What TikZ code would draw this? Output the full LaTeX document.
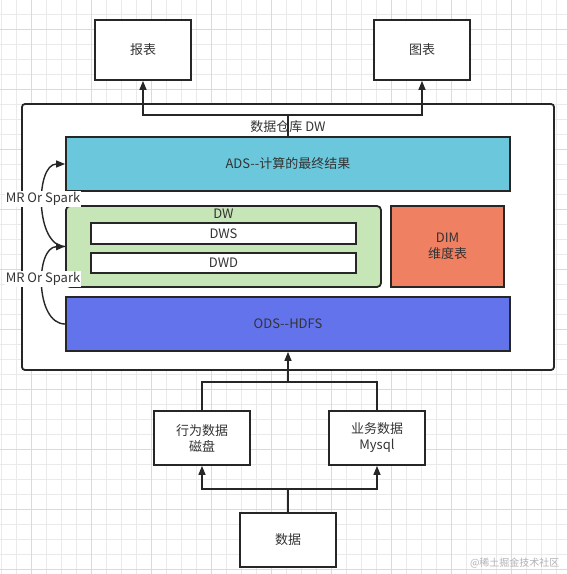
\documentclass[tikz,border=0pt]{standalone}
\usepackage{fontspec}
\setmainfont{Noto Sans CJK SC}
\usetikzlibrary{arrows.meta}
\definecolor{txt}{HTML}{333333}
\definecolor{adsc}{RGB}{107,200,220}
\definecolor{dwc}{RGB}{199,230,183}
\definecolor{dimc}{RGB}{240,128,98}
\definecolor{odsc}{RGB}{98,115,235}
\definecolor{gridminor}{RGB}{234,234,234}
\definecolor{gridmajor}{RGB}{218,218,218}
\newcommand{\dd}{-\kern0pt-}
\tikzset{
  box/.style={draw=black!85, line width=1.8pt, fill=white, inner sep=0pt, align=center, text=txt, font=\fontsize{13}{16}\selectfont},
  arr/.style={draw=black!85, line width=1.4pt, -{Triangle[length=9pt,width=7pt]}},
  ln/.style={draw=black!85, line width=1.4pt},
  lbl/.style={fill=white, inner sep=1pt, text=txt, font=\fontsize{13}{15}\selectfont},
  plain/.style={text=txt, font=\fontsize{13}{15}\selectfont, inner sep=1pt},
}
\begin{document}
\begin{tikzpicture}[x=1pt,y=-1pt]
\useasboundingbox (0,0) rectangle (567,574);
\fill[white] (0,0) rectangle (567,574);
% grid
\foreach \x in {1.7,16.7,...,567} \draw[gridminor, line width=0.6pt] (\x,0) -- (\x,574);
\foreach \y in {14,29,...,574} \draw[gridminor, line width=0.6pt] (0,\y) -- (567,\y);
\foreach \x in {31.7,91.7,...,567} \draw[gridmajor, line width=0.8pt] (\x,0) -- (\x,574);
\foreach \y in {29,89,...,574} \draw[gridmajor, line width=0.8pt] (0,\y) -- (567,\y);

% top boxes
\node[box, minimum width=96pt, minimum height=60pt] (bb) at (143,50) {报表};
\node[box, minimum width=96pt, minimum height=60pt] (tb) at (422,50) {图表};

% container
\node[box, rounded corners=3pt, minimum width=532pt, minimum height=266pt] (outer) at (288,237) {};
\node[plain] (outerlbl) at (288,127) {数据仓库 DW};

% layers
\node[box, fill=adsc, minimum width=444pt, minimum height=54pt] (ads) at (288,164) {ADS\dd 计算的最终结果};
\node[box, fill=dwc, rounded corners=4pt, minimum width=315pt, minimum height=81pt] (dw) at (223.5,246.5) {};
\node[plain] (dwlbl) at (223.5,213.5) {DW};
\node[box, minimum width=265pt, minimum height=21pt] (dws) at (223.5,233.5) {DWS};
\node[box, minimum width=265pt, minimum height=20pt] (dwd) at (223.5,263) {DWD};
\node[box, fill=dimc, minimum width=113pt, minimum height=81pt, font=\fontsize{13}{16}\selectfont] (dim) at (447.5,246.5) {DIM\\维度表};
\node[box, fill=odsc, minimum width=444pt, minimum height=54pt] (ods) at (288,324) {ODS\dd HDFS};

% bottom boxes
\node[box, minimum width=96pt, minimum height=54pt, font=\fontsize{13}{16}\selectfont] (xw) at (202,438) {行为数据\\磁盘};
\node[box, minimum width=96pt, minimum height=54pt, font=\fontsize{13}{16}\selectfont] (yw) at (377,438) {业务数据\\Mysql};
\node[box, minimum width=96pt, minimum height=54pt] (sj) at (288,540) {数据};

% connectors top
\coordinate (j1) at (288,115);
\draw[arr] (ads.north) -- (j1) -| (bb.south);
\draw[arr] (j1) -| (tb.south);

% connectors bottom
\coordinate (j2) at (288,489);
\draw[arr] (sj.north) -- (j2) -| (xw.south);
\draw[arr] (j2) -| (yw.south);
\coordinate (j3) at (288,382);
\draw[ln] (xw.north) |- (j3);
\draw[ln] (yw.north) |- (j3);
\draw[arr] (j3) -- (ods.south);

% curved arrows
\draw[arr] (ods.west) .. controls (35,324) and (35,247) .. (dw.west);
\draw[arr] (dw.west) .. controls (35,246.5) and (35,164) .. (ads.west);
\node[lbl] (mr1) at (43,199) {MR Or Spark};
\node[lbl] (mr2) at (43,279) {MR Or Spark};

% watermark
\node[text=black!30, font=\fontsize{10}{12}\selectfont, anchor=east] (wm) at (563,563) {@稀土掘金技术社区};
\end{tikzpicture}
\end{document}
